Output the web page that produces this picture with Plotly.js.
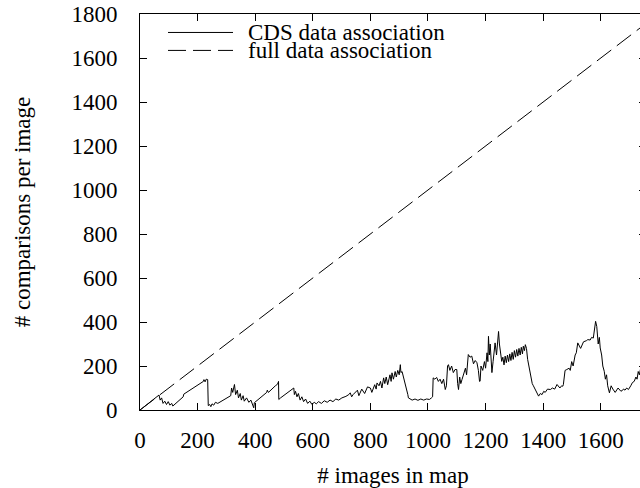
<!DOCTYPE html>
<html>
<head>
<meta charset="utf-8">
<script src="https://cdn.plot.ly/plotly-3.0.1.min.js"></script>
<style>
html,body{margin:0;padding:0;overflow:hidden;background:#fff;width:640px;height:488px;}
#chart{width:686px;height:488px;}
</style>
</head>
<body>
<div id="chart"></div>
<script>
// ---- data ----
var seriesNames = ["CDS data association", "full data association"];

var cdsX = [0,60,66,70,75,80,86,92,98,104,110,114,150,152,220,222,226,230,235,237,242,246,250,256,262,270,300,315,318,322,328,332,338,342,348,352,358,362,370,378,385,395,397,420,440,442,446,470,478,481,482,488,530,534,536,540,545,550,556,562,568,575,582,590,597,605,612,620,630,640,650,660,670,680,690,701,715,725,730,735,740,755,760,770,780,790,800,805,815,820,823,830,835,840,846,850,855,860,868,872,875,880,886,890,895,900,904,906,910,915,920,926,930,932,938,945,955,965,975,985,995,1005,1012,1016,1018,1024,1030,1036,1042,1048,1054,1060,1064,1068,1071,1076,1082,1088,1094,1100,1103,1106,1110,1114,1118,1124,1130,1134,1138,1140,1146,1152,1158,1164,1170,1175,1179,1181,1184,1190,1196,1200,1205,1208,1210,1213,1216,1219,1222,1226,1230,1233,1238,1242,1245,1248,1252,1256,1260,1264,1268,1272,1276,1280,1284,1288,1292,1296,1300,1304,1308,1312,1316,1320,1324,1328,1331,1335,1338,1342,1346,1350,1354,1358,1362,1366,1372,1378,1384,1390,1396,1402,1407,1415,1425,1432,1440,1448,1458,1464,1468,1470,1476,1482,1490,1494,1499,1504,1508,1511,1515,1520,1530,1540,1550,1555,1563,1568,1574,1578,1582,1586,1591,1595,1598,1603,1607,1612,1616,1620,1624,1630,1636,1642,1650,1660,1670,1680,1684,1690,1696,1704,1710,1716,1722,1726,1730,1734,1740,1750,1757];
var cdsY = [0,63,68,45,55,30,40,25,38,22,30,18,60,72,130,138,128,140,138,20,25,15,28,22,35,30,55,65,100,80,116,70,90,55,75,45,65,40,55,35,45,10,33,60,80,90,80,110,118,130,48,55,95,100,70,85,60,75,45,60,38,50,30,40,25,35,28,38,30,42,35,45,38,50,45,55,62,70,78,60,70,90,65,95,75,105,100,80,115,95,123,110,130,100,146,120,150,115,160,130,169,140,175,150,180,160,206,170,175,150,120,100,70,55,50,45,50,44,50,45,50,48,55,60,146,140,148,130,140,120,140,93,110,200,206,180,200,170,184,184,120,93,150,120,138,160,190,160,230,252,240,245,210,225,215,180,130,131,200,180,220,190,260,220,335,250,300,200,170,220,260,305,250,330,357,300,250,221,240,205,245,215,250,220,255,225,262,230,270,240,275,245,280,250,285,255,290,270,297,280,230,200,170,150,120,110,95,80,63,75,70,85,80,95,93,100,95,116,100,110,108,115,180,184,190,180,220,200,229,250,260,305,280,310,315,320,318,330,327,360,403,380,300,330,282,250,200,176,140,160,110,78,110,95,80,100,85,95,90,100,93,110,125,130,150,140,175,160,200,170,190,180,185];

var fullX = [0,1757];
var fullY = [0,1757];

var xTicks = [0,200,400,600,800,1000,1200,1400,1600];
var yTicks = [0,200,400,600,800,1000,1200,1400,1600,1800];

// ---- layout helpers ----
var FONT = "'Liberation Serif', 'Times New Roman', Times, serif";
var FS = 23;
var L = 140, T = 13.5, PW = 506, PH = 397;
function px2paperX(p){ return (p - L) / PW; }
function px2paperY(p){ return (T + PH - p) / PH; }

var traces = [
  {x: cdsX, y: cdsY, type: "scatter", mode: "lines", name: seriesNames[0],
   line: {color: "#000", width: 1}, showlegend: false, hoverinfo: "x+y"},
  {x: fullX, y: fullY, type: "scatter", mode: "lines", name: seriesNames[1],
   line: {color: "#000", width: 1, dash: "18px,7px"}, showlegend: false, hoverinfo: "x+y"}
];

var legendRows = [{py: 32, dash: "solid"}, {py: 50, dash: "18px,7px"}];
var shapes = [], annotations = [];
legendRows.forEach(function(r, i){
  shapes.push({type: "line", xref: "paper", yref: "paper",
    x0: px2paperX(168), x1: px2paperX(233), y0: px2paperY(r.py), y1: px2paperY(r.py),
    line: {color: "#000", width: 1, dash: r.dash}});
  annotations.push({xref: "paper", yref: "paper", x: px2paperX(247), y: px2paperY(r.py),
    xanchor: "left", yanchor: "middle", showarrow: false, text: seriesNames[i],
    borderpad: 0, height: 18, valign: "middle",
    font: {family: FONT, size: FS, color: "#000"}});
});

var layout = {
  width: 686, height: 488,
  margin: {l: L, r: 686 - L - PW, t: T, b: 488 - T - PH, pad: 0},
  paper_bgcolor: "#fff", plot_bgcolor: "#fff",
  font: {family: FONT, size: FS, color: "#000"},
  showlegend: false,
  xaxis: {range: [0, 1757], tickvals: xTicks, ticktext: xTicks.map(String),
    ticks: "inside", ticklen: 7, tickcolor: "#000", tickwidth: 1,
    showline: true, linecolor: "#000", linewidth: 1, mirror: "ticks",
    showgrid: false, zeroline: false, ticklabelstandoff: 9,
    tickfont: {family: FONT, size: FS},
    title: {text: "# images in map", font: {family: FONT, size: FS}, standoff: 16}},
  yaxis: {range: [0, 1800], tickvals: yTicks, ticktext: yTicks.map(String),
    ticks: "inside", ticklen: 7, tickcolor: "#000", tickwidth: 1,
    showline: true, linecolor: "#000", linewidth: 1, mirror: "ticks",
    showgrid: false, zeroline: false, ticklabelstandoff: 17,
    tickfont: {family: FONT, size: FS},
    title: {text: "# comparisons per image", font: {family: FONT, size: FS}, standoff: 34}},
  shapes: shapes,
  annotations: annotations
};

Plotly.newPlot("chart", traces, layout, {displayModeBar: false, staticPlot: true});
</script>
</body>
</html>
